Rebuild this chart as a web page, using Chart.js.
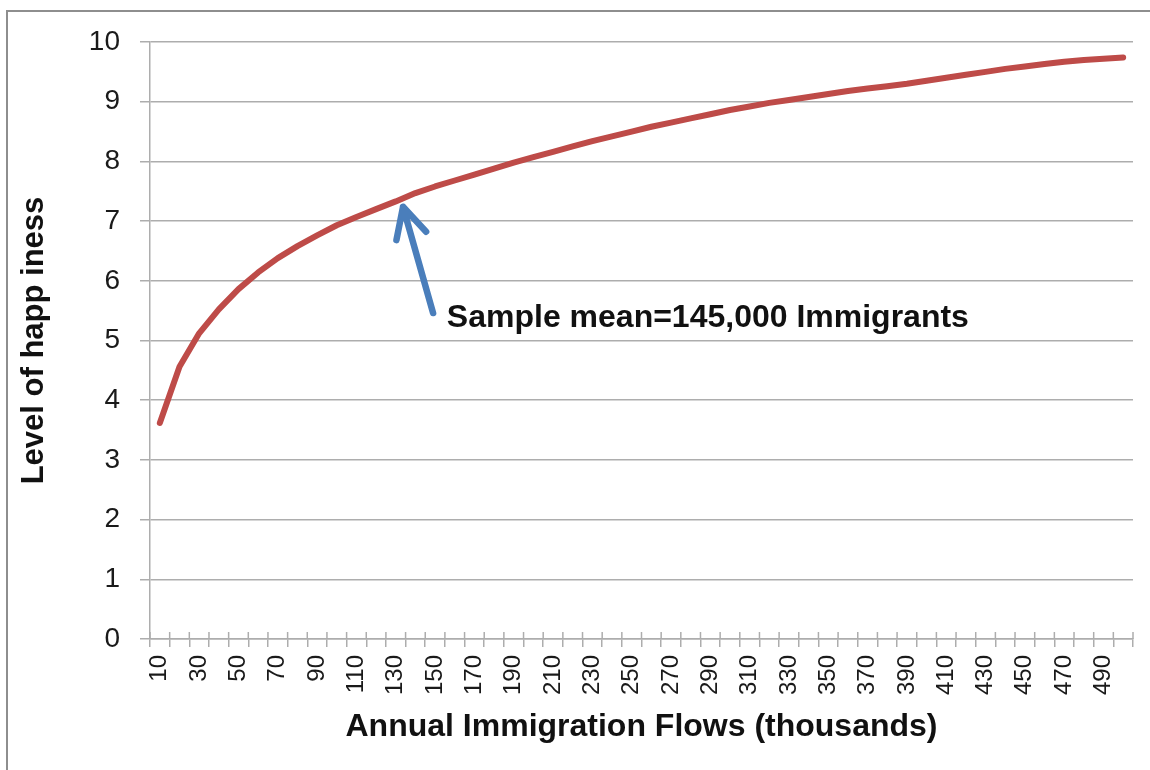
<!DOCTYPE html>
<html>
<head>
<meta charset="utf-8">
<title>Level of happiness and annual immigration flows</title>
<script src="https://cdn.jsdelivr.net/npm/chart.js@4.4.1/dist/chart.umd.min.js"></script>
<style>
  html, body { margin: 0; padding: 0; background: #fff; }
  #wrap { position: relative; width: 1150px; height: 770px; overflow: hidden; }
  #frame { position: absolute; left: 6px; top: 10px; width: 1200px; height: 800px; border: 2px solid #8e8e8e; }
  #box { position: absolute; left: 0; top: 0; width: 1150px; height: 770px; }
</style>
</head>
<body>
<div id="wrap">
  <div id="frame"></div>
  <div id="box"><canvas id="chart"></canvas></div>
</div>
<script>
// annual immigration flows (thousands) - one category per 10k
const flows = [10, 20, 30, 40, 50, 60, 70, 80, 90, 100,
  110, 120, 130, 140, 150, 160, 170, 180, 190, 200,
  210, 220, 230, 240, 250, 260, 270, 280, 290, 300,
  310, 320, 330, 340, 350, 360, 370, 380, 390, 400,
  410, 420, 430, 440, 450, 460, 470, 480, 490, 500]

// level of happiness
const happiness = [3.62, 4.56, 5.12, 5.52, 5.86, 6.14, 6.38, 6.58, 6.76, 6.93,
  7.07, 7.20, 7.33, 7.47, 7.58, 7.68, 7.78, 7.88, 7.98, 8.07,
  8.16, 8.25, 8.34, 8.42, 8.50, 8.58, 8.65, 8.72, 8.79, 8.86,
  8.92, 8.98, 9.03, 9.08, 9.13, 9.18, 9.22, 9.26, 9.30, 9.35,
  9.40, 9.45, 9.50, 9.55, 9.59, 9.63, 9.67, 9.70, 9.72, 9.74]

const yTickValues = [0, 1, 2, 3, 4, 5, 6, 7, 8, 9, 10]

const xTitle = 'Annual Immigration Flows (thousands)'
const yTitle = 'Level of happ iness'
const noteText = 'Sample mean=145,000 Immigrants'

// arrow + note, in scale units (category index, happiness)
const arrowTip = {x: 12.37, y: 7.24}
const arrowTail = {x: 13.9, y: 5.46}
const noteAt = {x: 14.6, y: 5.38}

const gridColor = '#adadad'
const font = 'Liberation Sans, Arial, sans-serif'

const annotate = {
  id: 'annotate',
  afterDatasetsDraw(chart) {
    const ctx = chart.ctx
    const xs = chart.scales.x, ys = chart.scales.y

    // excel style "cross" ticks: the part above the axis
    ctx.save()
    ctx.strokeStyle = gridColor
    ctx.lineWidth = 1.5
    const y0 = ys.getPixelForValue(0)
    for (let i = 0; i <= flows.length; i++) {
      const px = xs.getPixelForValue(i - 0.5)
      ctx.beginPath()
      ctx.moveTo(px, y0)
      ctx.lineTo(px, y0 - 7)
      ctx.stroke()
    }
    ctx.restore()

    const tx = xs.getPixelForValue(arrowTip.x), ty = ys.getPixelForValue(arrowTip.y)
    const bx = xs.getPixelForValue(arrowTail.x), by = ys.getPixelForValue(arrowTail.y)
    const ang = Math.atan2(by - ty, bx - tx)
    const barb = 34, spread = 27 * Math.PI / 180

    ctx.save()
    ctx.strokeStyle = '#4a7ebb'
    ctx.lineWidth = 6.5
    ctx.lineCap = 'round'
    ctx.lineJoin = 'round'
    ctx.beginPath()
    ctx.moveTo(bx, by)
    ctx.lineTo(tx, ty)
    ctx.moveTo(tx + barb * Math.cos(ang + spread), ty + barb * Math.sin(ang + spread))
    ctx.lineTo(tx, ty)
    ctx.lineTo(tx + barb * Math.cos(ang - spread), ty + barb * Math.sin(ang - spread))
    ctx.stroke()

    ctx.fillStyle = '#111'
    ctx.font = 'bold 32px ' + font
    ctx.textAlign = 'left'
    ctx.textBaseline = 'middle'
    ctx.fillText(noteText, xs.getPixelForValue(noteAt.x), ys.getPixelForValue(noteAt.y))
    ctx.restore()
  }
}

const chart = new Chart(document.getElementById('chart'), {
  type: 'line',
  data: {
    labels: flows,
    datasets: [{
      label: 'Happiness',
      data: happiness,
      borderColor: '#be4b48',
      borderWidth: 6,
      borderCapStyle: 'round',
      borderJoinStyle: 'round',
      pointRadius: 0,
      tension: 0,
      fill: false
    }]
  },
  options: {
    responsive: true,
    maintainAspectRatio: false,
    animation: false,
    layout: {padding: {left: 0, top: 42, right: 17, bottom: 0}},
    plugins: {legend: {display: false}, tooltip: {enabled: false}},
    scales: {
      x: {
        type: 'category',
        offset: true,
        grid: {offset: true, drawOnChartArea: false, drawTicks: true, tickLength: 8, color: gridColor, lineWidth: 1.5},
        border: {display: true, color: gridColor, width: 1.5},
        ticks: {
          autoSkip: false, maxRotation: 90, minRotation: 90, padding: 8,
          color: '#1a1a1a', font: {family: font, size: 24},
          callback: function (val, i) { return i % 2 === 0 ? this.getLabelForValue(val) : '' }
        },
        title: {display: true, text: xTitle, color: '#111', font: {family: font, size: 32, weight: 'bold'}, padding: {top: 0, bottom: 24}},
        afterFit: s => { s.height = 131; s.paddingLeft = 0; s.paddingRight = 0 }
      },
      y: {
        min: 0, max: 10,
        afterBuildTicks: s => { s.ticks = yTickValues.map(v => ({value: v})) },
        grid: {color: gridColor, lineWidth: 1.5, tickLength: 10},
        border: {display: true, color: gridColor, width: 1.5},
        ticks: {padding: 20, color: '#1a1a1a', font: {family: font, size: 28}},
        title: {display: true, text: yTitle, color: '#111', font: {family: font, size: 31, weight: 'bold'}, padding: {top: 16, bottom: 0}},
        afterFit: s => { s.width = 150 }
      }
    }
  },
  plugins: [annotate]
})
</script>
</body>
</html>
